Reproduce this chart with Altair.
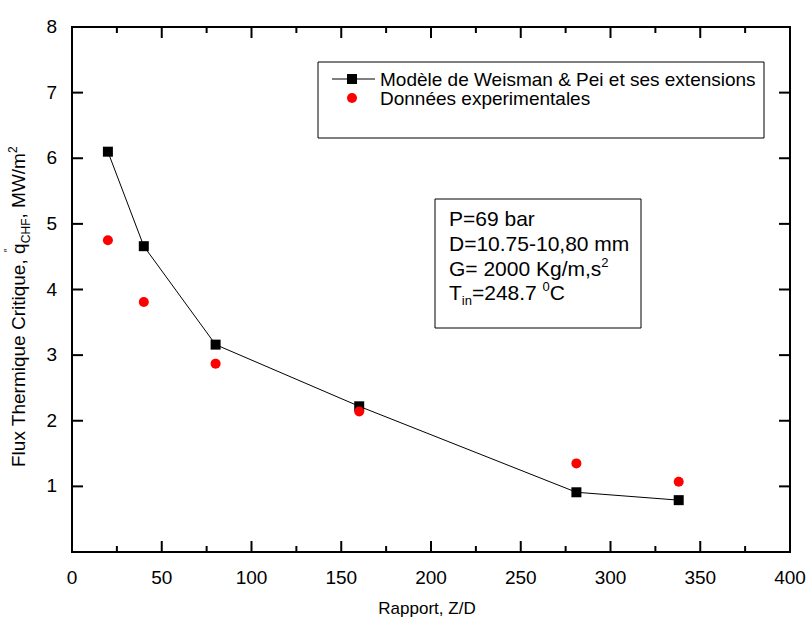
import altair as alt
import pandas as pd

# Critical heat flux versus length-to-diameter ratio
ratio_zd = [20, 40, 80, 160, 281, 338]
chf_model = [6.10, 4.66, 3.16, 2.22, 0.91, 0.79]      # Weisman & Pei model
chf_exp = [4.75, 3.81, 2.87, 2.14, 1.35, 1.07]        # experimental data

x_major = [0, 50, 100, 150, 200, 250, 300, 350, 400]
x_minor = [25, 75, 125, 175, 225, 275, 325, 375]
y_major = [1, 2, 3, 4, 5, 6, 7, 8]

FONT = "Liberation Sans"
W, H = 718, 525
X_MAX, Y_MAX = 400, 8
MAJ, MIN = 11, 6     # tick lengths in pixels

# Arial / Liberation Sans advance widths (per 1000 em) for placing rich-text pieces
ADV = {" ": 278, ",": 278, ".": 278, "/": 278, "-": 333, "=": 584, "&": 667,
       "C": 722, "D": 722, "F": 611, "G": 778, "H": 722, "K": 667, "M": 833,
       "P": 667, "T": 611, "W": 944, "a": 556, "e": 556, "g": 556, "h": 556,
       "i": 222, "l": 222, "m": 833, "n": 556, "q": 556, "r": 333, "s": 500,
       "t": 278, "u": 556, "x": 500}


def text_width(s, size):
    return sum(ADV.get(c, 556) for c in s) * size / 1000.0


model = pd.DataFrame({"zd": ratio_zd, "q": chf_model})
exp = pd.DataFrame({"zd": ratio_zd, "q": chf_exp})
one = pd.DataFrame({"k": [0]})

xs = alt.Scale(domain=[0, X_MAX], nice=False, zero=False)
ys = alt.Scale(domain=[0, Y_MAX], nice=False, zero=False)

# axes are drawn by hand (frame ticks, labels, titles), so scales carry no axis
X = lambda f: alt.X(f, type="quantitative", scale=xs, axis=None)
Y = lambda f: alt.Y(f, type="quantitative", scale=ys, axis=None)

# inward frame ticks: segments in data units, built from the tick values
ky = Y_MAX / H
kx = X_MAX / W
xt_rows = []
for v in x_major:
    xt_rows.append({"v": v, "a": 0.0, "b": MAJ * ky})
    xt_rows.append({"v": v, "a": float(Y_MAX), "b": Y_MAX - MAJ * ky})
for v in x_minor:
    xt_rows.append({"v": v, "a": 0.0, "b": MIN * ky})
    xt_rows.append({"v": v, "a": float(Y_MAX), "b": Y_MAX - MIN * ky})
yt_rows = []
for v in y_major:
    yt_rows.append({"v": v, "a": 0.0, "b": MAJ * kx})
    yt_rows.append({"v": v, "a": float(X_MAX), "b": X_MAX - MAJ * kx})
xticks = alt.Chart(pd.DataFrame(xt_rows)).mark_rule(color="black", strokeWidth=2).encode(
    x=X("v"), y=Y("a"), y2="b:Q")
yticks = alt.Chart(pd.DataFrame(yt_rows)).mark_rule(color="black", strokeWidth=2).encode(
    y=Y("v"), x=X("a"), x2="b:Q")

# tick labels placed through the scales
xlab = alt.Chart(pd.DataFrame({"v": x_major})).mark_text(
    font=FONT, fontSize=19, color="black", align="center", baseline="middle").encode(
    x=X("v"), y=alt.value(H + 26), text=alt.Text("v:Q", format="d"))
ylab = alt.Chart(pd.DataFrame({"v": y_major})).mark_text(
    font=FONT, fontSize=19, color="black", align="right", baseline="middle").encode(
    y=Y("v"), x=alt.value(-15), text=alt.Text("v:Q", format="d"))

line = alt.Chart(model).mark_line(color="black", strokeWidth=1).encode(x=X("zd"), y=Y("q"))
squares = alt.Chart(model).mark_point(shape="square", filled=True, size=100,
                                      color="black", opacity=1).encode(x=X("zd"), y=Y("q"))
circles = alt.Chart(exp).mark_circle(size=100, color="#ff0000", opacity=1).encode(x=X("zd"), y=Y("q"))


def label(s, x, y, size, angle=0, align="left", baseline="alphabetic"):
    return alt.Chart(one).mark_text(text=s, font=FONT, fontSize=size, color="black",
                                    align=align, baseline=baseline,
                                    angle=angle).encode(x=alt.value(x), y=alt.value(y))


# x-axis title
xtitle = label("Rapport, Z/D", W / 2 - 4, H + 57, 17, align="center", baseline="middle")

# rotated y-axis title with subscript / superscript pieces
yt = []
f_main, f_small = 19, 12
bx = -47           # baseline position (left of the plot)
py = 440           # start of the string (reading upward)
s1 = "Flux Thermique Critique, q"
yt.append(label(s1, bx, py, f_main, 270))
py -= text_width(s1, f_main)
yt.append(label("\u2033", bx - 13, py + 9, 10, 270))
yt.append(label("CHF", bx + 5, py, f_small, 270))
py -= text_width("CHF", f_small)
s2 = ", MW/m"
yt.append(label(s2, bx, py, f_main, 270))
py -= text_width(s2, f_main)
yt.append(label("2", bx - 8, py, f_small, 270))

# legend box
leg_box = alt.Chart(one).mark_rect(fill="white", stroke="black", strokeWidth=1).encode(
    x=alt.value(246), x2=alt.value(692), y=alt.value(35), y2=alt.value(111))
leg_line = alt.Chart(one).mark_rule(color="black", strokeWidth=1).encode(
    x=alt.value(260), x2=alt.value(303), y=alt.value(52))
leg_sq = alt.Chart(one).mark_point(shape="square", filled=True, size=100, color="black",
                                   opacity=1).encode(x=alt.value(280), y=alt.value(52))
leg_ci = alt.Chart(one).mark_circle(size=100, color="#ff0000", opacity=1).encode(
    x=alt.value(280), y=alt.value(71))
leg_t1 = label("Modèle de Weisman & Pei et ses extensions", 308, 59, 19)
leg_t2 = label("Données experimentales", 308, 78, 19)

# conditions box
cond_box = alt.Chart(one).mark_rect(fill="white", stroke="black", strokeWidth=1).encode(
    x=alt.value(363), x2=alt.value(569), y=alt.value(172), y2=alt.value(301))
fa, fs = 21, 13
tx = 377
cond = [label("P=69 bar", tx, 199, fa),
        label("D=10.75-10,80 mm", tx, 224, fa)]
g_txt = "G= 2000 Kg/m,s"
cond.append(label(g_txt, tx, 249, fa))
cond.append(label("2", tx + text_width(g_txt, fa), 240, fs))
px = tx
cond.append(label("T", px, 273, fa))
px += text_width("T", fa)
cond.append(label("in", px, 278, fs))
px += text_width("in", fs)
t_txt = "=248.7 "
cond.append(label(t_txt, px, 273, fa))
px += text_width(t_txt, fa)
cond.append(label("0", px, 264, fs))
px += 556 * fs / 1000
cond.append(label("C", px, 273, fa))

chart = alt.layer(
    line, squares, circles, *yt, xtitle, xlab, ylab,
    leg_box, leg_line, leg_sq, leg_ci, leg_t1, leg_t2,
    cond_box, *cond,
    xticks, yticks,
).properties(
    width=W, height=H,
    autosize=alt.AutoSizeParams(type="none"),
    padding={"left": 72, "top": 27, "right": 20, "bottom": 67},
    background="white",
).configure_view(stroke="black", strokeWidth=2)

chart.save("out.html", embed_options={"renderer": "svg", "actions": False})
